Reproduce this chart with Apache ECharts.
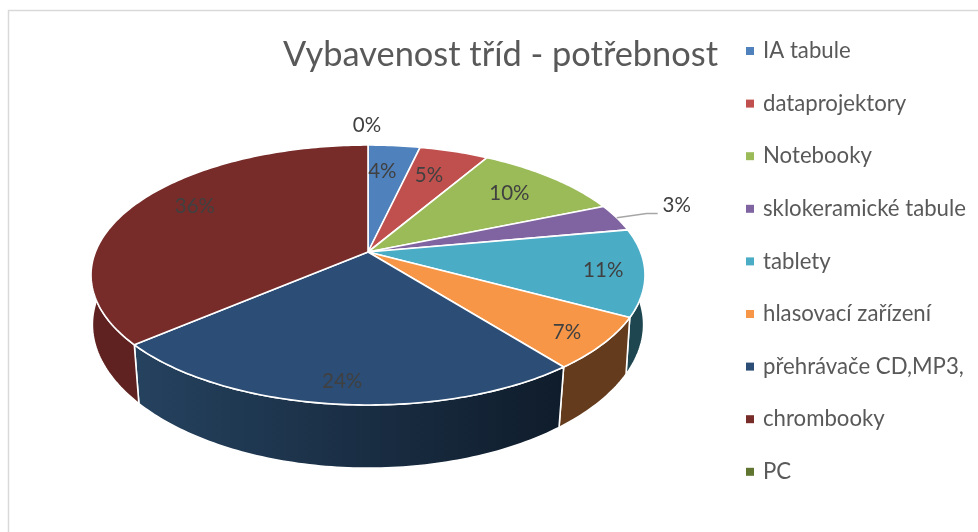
<!DOCTYPE html>
<html>
<head>
<meta charset="utf-8">
<style>html,body{margin:0;padding:0;background:#fff}#c{width:978px;height:532px}</style>
<script src="https://cdn.jsdelivr.net/npm/echarts@6/dist/echarts.min.js"></script>
</head>
<body>
<div id="c"></div>
<script>
const titleText = 'Vybavenost tříd - potřebnost';
const categories = ['IA tabule','dataprojektory','Notebooky','sklokeramické tabule','tablety','hlasovací zařízení','přehrávače CD,MP3,','chrombooky','PC'];
const shares = [3.6,4.8,10.3,3.4,10.8,6.5,24.3,36.3,0];
const topColors = ['#4f81bd','#c0504d','#9bbb59','#8064a2','#4bacc6','#f79646','#2c4d75','#772c2a','#5f7530'];
const wallColors = ['#2f4d71','#733130','#5d7035','#4d3c61','#1d4650','#643b1c',null,'#602220','#39461d'];
const labelRadius = [.75,.75,.75,1.2,.75,.75,.75,.75,1.2];
const labelNudge = [[-6,2],[-6,2],[0,-1],[13,-6],[29,3],[28,14],[-3,21],[3,-8],[-1,-2]];

// projection of the tilted disc
const cx=368, cy=252, R=272.6, S=125.9, K=.177, DEPTH=52, TAPER=.03;
const FONT='Lato, "Open Sans", sans-serif';
const total = shares.reduce((a,b)=>a+b,0);
function proj(deg,r){
  const a=deg*Math.PI/180, u=r*Math.sin(a), v=-r*Math.cos(a), w=1-K*v;
  return {x:cx+R*u/w,y:cy+S*v/w,w,v};
}
function arc(a0,a1){
  const pts=[], n=Math.max(1,Math.ceil(Math.abs(a1-a0)));
  for(let i=0;i<=n;i++){pts.push(proj(a0+(a1-a0)*i/n,1));}
  return pts;
}
function startAngle(i){
  let s=0; for(let j=0;j<i;j++) s+=shares[j];
  return s/total*360;
}
function renderSlice(idx){
  return function(params,api){
    const value=api.value(0), a0=startAngle(idx), a1=a0+value/total*360;
    const children=[];
    if(value>0){
      const lo=Math.max(a0,90), hi=Math.min(a1,270);
      if(hi>lo){
        const rim=arc(lo,hi);
        const low=rim.map(p=>[cx+(p.x-cx)*(1-TAPER*p.v),p.y+DEPTH/p.w]).reverse();
        const fill=wallColors[idx]||new echarts.graphic.LinearGradient(0,0,1,0,[
          {offset:0,color:'#25425f'},{offset:1,color:'#0f1c2b'}]);
        children.push({type:'polygon',z2:1,shape:{points:rim.map(p=>[p.x,p.y]).concat(low)},
          style:{fill,stroke:'#fff',lineWidth:1.6,lineJoin:'round'}});
      }
      const top=[[cx,cy]].concat(arc(a0,a1).map(p=>[p.x,p.y]));
      children.push({type:'polygon',z2:2,shape:{points:top},
        style:{fill:topColors[idx],stroke:'#fff',lineWidth:1.6,lineJoin:'round'}});
    }
    const mid=(a0+a1)/2, lp=proj(mid,labelRadius[idx]);
    const lx=lp.x+labelNudge[idx][0], ly=lp.y+labelNudge[idx][1];
    if(value>0 && labelRadius[idx]>1){
      const s=proj(mid,1);
      children.push({type:'polyline',z2:3,shape:{points:[[s.x,s.y],[lx-30,ly+8],[lx-19,ly+8]]},
        style:{fill:null,stroke:'#a6a6a6',lineWidth:1.5}});
    }
    children.push({type:'text',z2:4,style:{text:Math.round(value/total*100)+'%',x:lx,y:ly,
      fill:'#404040',font:'20.5px '+FONT,align:'center',verticalAlign:'middle'}});
    return {type:'group',children};
  };
}
const chart=echarts.init(document.getElementById('c'),null,{renderer:'canvas'});
chart.setOption({
  animation:false,
  backgroundColor:'#fff',
  title:{text:titleText,left:283,top:38,padding:0,textStyle:{fontFamily:FONT,fontSize:34.4,fontWeight:'normal',color:'#595959'}},
  legend:{orient:'vertical',left:746,top:40,padding:0,icon:'rect',itemWidth:8,itemHeight:8,itemGap:30.6,selectedMode:false,
    data:categories,
    textStyle:{fontFamily:FONT,fontSize:22.2,color:'#595959',height:20,lineHeight:20,padding:[0,0,0,4]}},
  graphic:[{type:'rect',silent:true,z:-1,shape:{x:8.5,y:10.5,width:1000,height:600},style:{fill:'none',stroke:'#d9d9d9',lineWidth:1.5}}],
  series:categories.map((name,i)=>({
    type:'custom',name,coordinateSystem:'none',silent:true,z:2,
    itemStyle:{color:topColors[i]},
    renderItem:renderSlice(i),
    data:[[shares[i]]]
  }))
});
</script>
</body>
</html>
